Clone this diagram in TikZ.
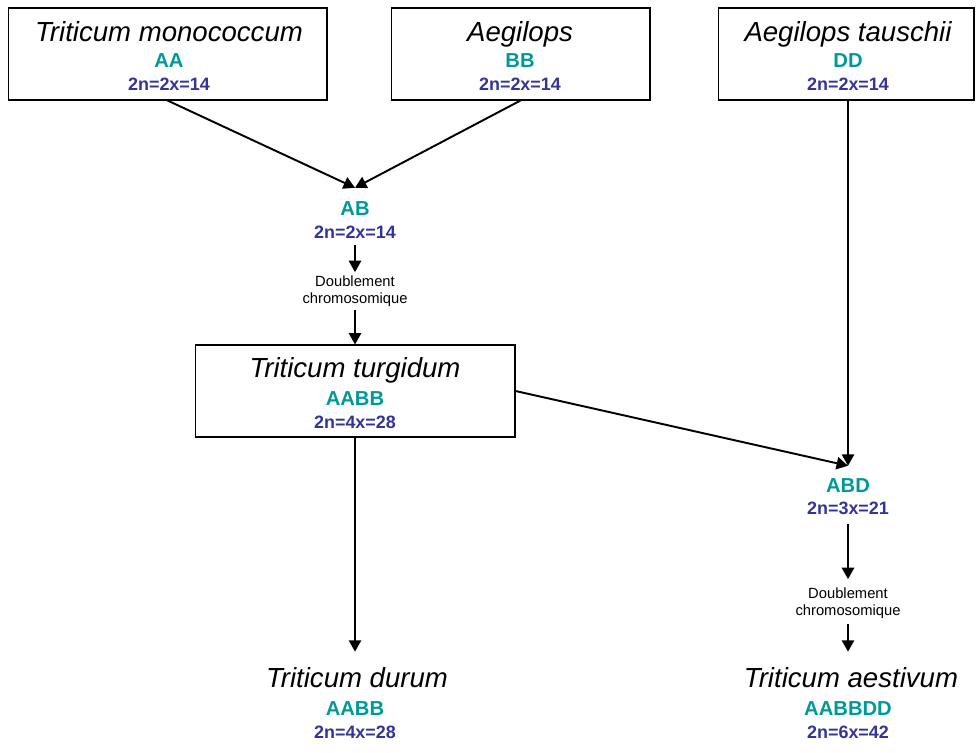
\documentclass[tikz,border=0pt]{standalone}
\usepackage{fontspec}
\setmainfont{Liberation Sans}
\usetikzlibrary{positioning,arrows.meta}
\definecolor{genteal}{RGB}{0,153,153}
\definecolor{ploblue}{RGB}{51,51,153}

\begin{document}
\begin{tikzpicture}[x=0.02cm, y=-0.02cm, every node/.style={inner sep=0pt},
  species/.style={anchor=base, font=\fontsize{15.7}{18}\selectfont\itshape},
  genome/.style={anchor=base, text=genteal, font=\fontsize{11.5}{14}\selectfont\bfseries},
  ploidy/.style={anchor=base, text=ploblue, font=\fontsize{10.2}{12}\selectfont\bfseries},
  note/.style={align=center, font=\fontsize{8.4}{9.8}\selectfont},
  sbox/.style={draw, line width=0.6pt, minimum height=1.84cm},
  link/.style={line width=1.1pt, -{Triangle[length=6.5pt,width=7pt]}}]
\useasboundingbox (0,0) rectangle (976,753);

% parents
\node[sbox, minimum width=6.38cm] (mono) at (167.5,54) {};
\node[species] (mononame) at (169,42) {Triticum monococcum};
\node[genome] (monogen) at (169,68) {AA};
\node[ploidy] (monoplo) at (169,91) {2n=2x=14};

\node[sbox, minimum width=5.18cm] (aeg) at (520.5,54) {};
\node[species] (aegname) at (520,42) {Aegilops};
\node[genome] (aeggen) at (520,68) {BB};
\node[ploidy] (aegplo) at (520,91) {2n=2x=14};

\node[sbox, minimum width=5.12cm] (tau) at (846,54) {};
\node[species] (tauname) at (848,42) {Aegilops tauschii};
\node[genome] (taugen) at (848,68) {DD};
\node[ploidy] (tauplo) at (848,91) {2n=2x=14};

% first hybrid
\node[genome] (ab) at (355,215) {AB};
\node[ploidy] (abplo) at (355,238) {2n=2x=14};
\node[note] (dbl1) at (355,291) {Doublement\\chromosomique};

\node[sbox, minimum width=6.4cm] (turg) at (355,391) {};
\node[species] (turgname) at (355,377) {Triticum turgidum};
\node[genome] (turggen) at (355,405) {AABB};
\node[ploidy] (turgplo) at (355,428) {2n=4x=28};

% second hybrid
\node[genome] (abd) at (848,492) {ABD};
\node[ploidy] (abdplo) at (848,514) {2n=3x=21};
\node[note] (dbl2) at (848,603) {Doublement\\chromosomique};

% results
\node[species] (durname) at (357,687) {Triticum durum};
\node[genome] (durgen) at (355,715) {AABB};
\node[ploidy] (durplo) at (355,738) {2n=4x=28};

\node[species] (aesname) at (851,687) {Triticum aestivum};
\node[genome] (aesgen) at (848,715) {AABBDD};
\node[ploidy] (aesplo) at (848,738) {2n=6x=42};

\draw[link] (mono.south) -- ([yshift=0.26cm]ab.north);
\draw[link] (aeg.south) -- ([yshift=0.26cm]ab.north);
\draw[link] ([yshift=-0.14cm]abplo.south) -- ([yshift=0.06cm]dbl1.north);
\draw[link] ([yshift=-0.06cm]dbl1.south) -- (turg.north);
\draw[link] (turg.south) -- ([yshift=0.3cm]turg.south |- durname.north);
\draw[link] (turg.east) -- ([yshift=0.24cm]abd.north);
\draw[link] (tau.south -| abd) -- ([yshift=0.24cm]abd.north);
\draw[link] ([yshift=-0.18cm]abdplo.south) -- ([yshift=0.16cm]dbl2.north);
\draw[link] ([yshift=-0.1cm]dbl2.south) -- ([yshift=0.3cm]dbl2.south |- aesname.north);
\end{tikzpicture}
\end{document}
